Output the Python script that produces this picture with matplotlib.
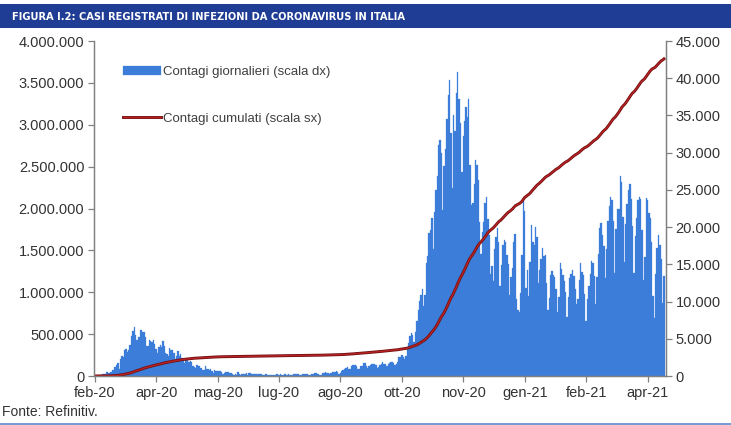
import numpy as np
import matplotlib.pyplot as plt
import matplotlib.patheffects as pe
from matplotlib.patches import Rectangle
from matplotlib.ticker import FuncFormatter, MultipleLocator

# contagi giornalieri, dal 21 feb 2020 al 13 apr 2021
feb20 = [20, 62, 79, 76, 93, 78, 250, 238, 240]
mar20 = [566, 342, 466, 587, 769, 778, 1247, 1492, 1797, 977,
         2313, 2651, 2547, 3497, 3590, 3233, 3526, 4207, 5322, 5986,
         6557, 5560, 4789, 5249, 5210, 6153, 5959, 5974, 5217, 4050, 4053]
apr20 = [4782, 4668, 4585, 4805, 4316, 3599, 3039, 3836, 4204, 3951,
         4694, 4092, 3153, 2972, 2667, 3786, 3493, 3491, 3047, 2256,
         2729, 3370, 2646, 3021, 2357, 2324, 1739, 2091, 2086, 1872]
mag20 = [1965, 1900, 1389, 1221, 1075, 1444, 1401, 1327, 1083, 802,
         744, 1402, 888, 992, 789, 875, 675, 451, 813, 665,
         642, 652, 669, 531, 300, 397, 584, 593, 516, 416, 355]
giu20 = [318, 178, 321, 177, 518, 270, 197, 280, 283, 202,
         379, 163, 346, 338, 301, 210, 329, 333, 251, 262,
         224, 218, 122, 190, 296, 259, 175, 174, 126, 142]
lug20 = [187, 201, 223, 235, 192, 208, 138, 193, 229, 276,
         188, 234, 169, 114, 162, 230, 233, 249, 219, 190,
         129, 280, 306, 252, 275, 255, 170, 181, 202, 289, 386]
ago20 = [379, 295, 238, 159, 190, 384, 402, 552, 347, 463,
         259, 412, 481, 523, 574, 629, 479, 320, 403, 642,
         845, 947, 1071, 1210, 878, 953, 1366, 1411, 1460, 1444, 1365]
set20 = [996, 978, 1326, 1397, 1733, 1695, 1297, 1108, 1370, 1434,
         1597, 1616, 1638, 1458, 1008, 1229, 1452, 1585, 1907, 1638,
         1587, 1392, 1640, 1786, 1912, 1869, 1766, 1494, 1648, 1851]
ott20 = [2548, 2499, 2844, 2578, 2257, 2677, 3678, 4458, 5372, 5724,
         5456, 4619, 5901, 7332, 8804, 10010, 10925, 11705, 9338, 10874,
         15199, 16079, 19143, 19644, 21273, 17012, 21994, 24991, 26831, 31084, 31758]
nov20 = [29907, 22253, 28244, 30550, 34505, 37809, 39811, 32616, 25271, 35098,
         32961, 37978, 40902, 37255, 33979, 27354, 32191, 34283, 36176, 34767,
         37242, 28337, 22930, 23232, 25853, 29003, 28352, 26323, 20648, 16377]
dic20 = [19350, 20709, 23225, 24099, 21052, 18887, 13720, 14842, 12756, 16999,
         18727, 19903, 17938, 12030, 14844, 17572, 18236, 17992, 16308, 15104,
         10872, 13318, 14522, 18040, 19037, 10407, 8913, 8585, 11212, 16202, 23477]
gen21 = [22211, 11831, 14245, 10800, 15378, 20331, 18020, 17533, 19978, 18627,
         12532, 14242, 15774, 17246, 16146, 16310, 12545, 8824, 10497, 13571,
         14078, 13633, 13331, 11629, 8561, 10593, 15204, 14372, 13574, 12715, 11252]
feb21 = [7925, 10630, 13189, 13659, 14218, 13442, 11641, 9630, 10404, 12956,
         15146, 13908, 13532, 11068, 7351, 10386, 12074, 13762, 15479, 15146,
         13452, 9630, 13314, 16424, 19886, 20499, 18916, 17455]
mar21 = [13114, 17083, 20884, 22865, 24036, 23641, 20765, 13902, 19749, 22409,
         22409, 26824, 26062, 21315, 15267, 20396, 23059, 24935, 25735, 23832,
         20159, 13846, 18765, 21267, 23696, 24076, 23839, 19611, 12916, 16017, 23904]
apr21 = [23649, 21932, 21261, 18025, 10680, 7767, 13708, 17221, 18938, 17567,
         15746, 9789, 13447]

etichette = ['feb-20', 'apr-20', 'mag-20', 'lug-20', 'ago-20', 'ott-20',
             'nov-20', 'gen-21', 'feb-21', 'apr-21']

giornalieri = np.array(feb20 + mar20 + apr20 + mag20 + giu20 + lug20 + ago20 + set20
                       + ott20 + nov20 + dic20 + gen21 + feb21 + mar21 + apr21)
cumulati = np.cumsum(giornalieri)
giorni = np.arange(len(giornalieri))

plt.rcParams['font.family'] = ['Liberation Sans', 'DejaVu Sans']

def punti(v, pos):
    return f'{v:,.0f}'.replace(',', '.')

fig = plt.figure(figsize=(7.31, 4.25), dpi=100)
fig.patches.append(Rectangle((0, 1 - 28 / 425), 1, 24 / 425, transform=fig.transFigure,
                             facecolor='#1f3d94', edgecolor='none'))
fig.text(12 / 731, 1 - 16.5 / 425, 'FIGURA I.2: CASI REGISTRATI DI INFEZIONI DA CORONAVIRUS IN ITALIA',
         color='white', fontsize=7.9, fontweight='bold', va='center',
         family='DejaVu Sans', fontstretch='condensed')
fig.text(2 / 731, 1 - 412 / 425, 'Fonte: Refinitiv.', fontsize=10, color='#333333', va='center')
fig.lines.append(plt.Line2D([0, 1], [1 - 423.5 / 425] * 2, transform=fig.transFigure,
                            color='#5b8ad0', lw=1.2))

ax = fig.add_axes([94 / 731, 1 - 376 / 425, (666 - 94) / 731, 335 / 425])
ax2 = ax.twinx()

barre = ax2.bar(giorni, giornalieri, width=1.0, color='#3b7dd8', edgecolor='#3b7dd8',
                linewidth=0.2, label='Contagi giornalieri (scala dx)')
linea, = ax.plot(giorni, cumulati, color='#b82224', lw=1.0, label='Contagi cumulati (scala sx)',
                 path_effects=[pe.Stroke(linewidth=2.1, foreground='#6e0f0f'), pe.Normal()])

ax.set_zorder(ax2.get_zorder() + 1)
ax.patch.set_visible(False)

ax.set_xlim(-0.5, 418.5)
ax.set_ylim(0, 4000000)
ax2.set_ylim(0, 45000)
ax.yaxis.set_major_locator(MultipleLocator(500000))
ax2.yaxis.set_major_locator(MultipleLocator(5000))
ax.yaxis.set_major_formatter(FuncFormatter(punti))
ax2.yaxis.set_major_formatter(FuncFormatter(punti))
ax.set_xticks(np.arange(len(etichette)) * 45)
ax.set_xticklabels(etichette)

for a in (ax, ax2):
    a.spines['top'].set_visible(False)
    for s in ('left', 'right', 'bottom'):
        a.spines[s].set_color('#808080')
        a.spines[s].set_linewidth(0.9)
    a.tick_params(labelsize=10.5, colors='#808080', labelcolor='#333333', length=4, width=0.9, pad=3)

ax.legend([barre, linea], [barre.get_label(), linea.get_label()], loc='upper left',
          bbox_to_anchor=(0.03, 0.96), frameon=False, fontsize=9.5, labelcolor='#404040',
          handlelength=2.9, handletextpad=0.1, labelspacing=2.6, handleheight=0.6)

fig.savefig('out.png', dpi=100)
